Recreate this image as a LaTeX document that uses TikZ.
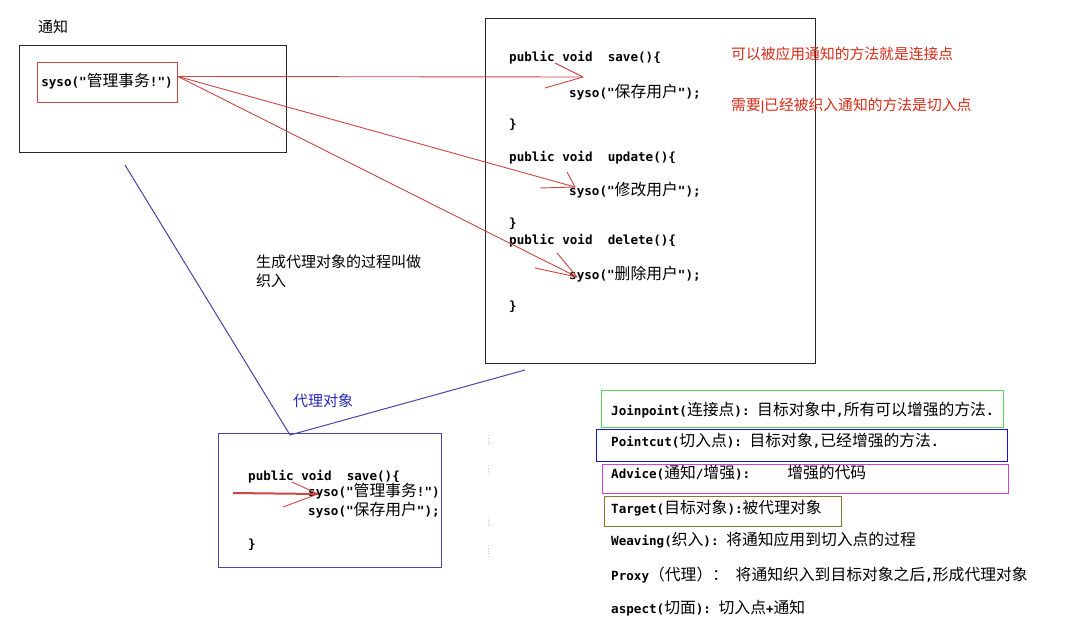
\documentclass[tikz,border=0pt]{standalone}
\usepackage{fontspec}
\setmonofont{DejaVu Sans Mono}
\newfontfamily\cjk{Noto Sans CJK SC}
\newcommand\zh[1]{{\cjk\mdseries\fontsize{15.8}{17}\selectfont #1}}
\definecolor{boxblack}{RGB}{40,40,40}
\definecolor{redline}{RGB}{205,70,70}
\definecolor{redtext}{RGB}{215,45,25}
\definecolor{blueline}{RGB}{70,70,165}
\definecolor{bluetext}{RGB}{40,40,190}
\definecolor{lgreen}{RGB}{90,210,90}
\definecolor{lblue}{RGB}{20,20,200}
\definecolor{lmagenta}{RGB}{220,60,220}
\definecolor{lolive}{RGB}{130,120,50}
\tikzset{
  code/.style={font=\ttfamily\bfseries\fontsize{12.6}{14}\selectfont, anchor=west, inner sep=0pt, text=black},
  zhtext/.style={font=\cjk\fontsize{15}{17}\selectfont, anchor=west, inner sep=0pt},
  framebox/.style={draw, anchor=north west, inner sep=0pt, fill=none},
  redconn/.style={draw=redline, line width=0.9pt},
  blueconn/.style={draw=blueline, line width=1pt},
}
\begin{document}
\begin{tikzpicture}[x=1pt,y=-1pt]
\useasboundingbox[fill=white] (0,0) rectangle (1078,632);

% --- notice (advice) box
\node[zhtext] (tzlabel) at (38,27) {通知};
\node[framebox, draw=boxblack, line width=1.3pt, minimum width=267pt, minimum height=107pt] (notice) at (19,45) {};
\node[framebox, draw=redline, line width=1pt, minimum width=140pt, minimum height=40pt] (redbox) at (37,62) {};
\node[code, anchor=center] (advtext) at (107,81) {syso("\zh{管理事务}!")};

% --- target box
\node[framebox, draw=boxblack, line width=1.3pt, minimum width=330pt, minimum height=345pt] (target) at (485,18) {};
\node[code] (c1) at (509,58) {public void\ \ save()\{};
\node[code] (c2) at (569,92) {syso("\zh{保存用户}");};
\node[code] (c3) at (509,125) {\}};
\node[code] (c4) at (509,158) {public void\ \ update()\{};
\node[code] (c5) at (569,190) {syso("\zh{修改用户}");};
\node[code] (c6) at (509,224) {\}};
\node[code] (c7) at (509,241) {public void\ \ delete()\{};
\node[code] (c8) at (569,274) {syso("\zh{删除用户}");};
\node[code] (c9) at (509,307) {\}};

% --- red annotations
\node[zhtext, text=redtext, font=\cjk\fontsize{14.8}{17}\selectfont] (r1) at (731,54) {可以被应用通知的方法就是连接点};
\node[zhtext, text=redtext, font=\cjk\fontsize{14.8}{17}\selectfont] (r2) at (731,106) {需要{\bfseries\fontsize{11}{12}\selectfont|}已经被织入通知的方法是切入点};

% --- red connectors with hand-drawn heads
\coordinate (src) at ([yshift=6pt]redbox.east);
\coordinate (t1) at (583,77);
\coordinate (t2) at (575,187);
\coordinate (t3) at (577,277);
\draw[redconn] (src) -- (t1);
\draw[redconn] (src) -- (t2);
\draw[redconn] (src) -- (t3);
\draw[redconn] (t1) -- ++(-28,-14);
\draw[redconn] (t1) -- ++(-38,11);
\draw[redconn] (t2) -- ++(-8,-15);
\draw[redconn] (t2) -- ++(-35,1);
\draw[redconn] (t3) -- ++(-20,-24);
\draw[redconn] (t3) -- ++(-42,-9);

% --- weaving text
\node[zhtext] (weave1) at (256,262) {生成代理对象的过程叫做};
\node[zhtext] (weave2) at (256,281) {织入};

% --- proxy box and blue connectors
\node[framebox, draw=blueline, line width=1.2pt, minimum width=223pt, minimum height=134pt] (proxy) at (218,433) {};
\coordinate (bl) at (125,165);
\coordinate (bv) at (290,435);
\coordinate (br) at (525,370);
\draw[blueconn] (bl) -- (bv) -- (br);
\node[zhtext, text=bluetext] (proxylabel) at (293,401) {代理对象};

\node[code] (p1) at (248,477) {public void\ \ save()\{};
\node[code] (p2) at (308,491) {syso("\zh{管理事务}!")};
\node[code] (p3) at (308,510) {syso("\zh{保存用户}");};
\node[code] (p4) at (248,545) {\}};

\coordinate (ps) at (233,493);
\coordinate (pt) at (318,494);
\draw[draw=redline, line width=2pt] (ps) -- (pt);
\draw[redconn] (pt) -- ++(-26,-12);
\draw[redconn] (pt) -- ++(-35,13);

% faint dotted marks
\foreach \ya/\yb in {435/445,465/476,517/527,545/557}
  \draw[gray!40, dotted, line width=0.8pt] (488,\ya) -- (488,\yb);

% --- glossary
\node[framebox, draw=lgreen, line width=1pt, minimum width=402pt, minimum height=37pt] (gJ) at (601,390) {};
\node[framebox, draw=lblue, line width=1pt, minimum width=411pt, minimum height=32pt] (gP) at (596,429) {};
\node[framebox, draw=lmagenta, line width=1pt, minimum width=406pt, minimum height=29pt] (gA) at (602,464) {};
\node[framebox, draw=lolive, line width=1pt, minimum width=237pt, minimum height=30pt] (gT) at (604,496) {};

\node[code] (l1) at (611,410) {Joinpoint(\zh{连接点}): \zh{目标对象中},\zh{所有可以增强的方法}.};
\node[code] (l2) at (611,441) {Pointcut(\zh{切入点}): \zh{目标对象},\zh{已经增强的方法}.};
\node[code] (l3) at (611,473) {Advice(\zh{通知}/\zh{增强}):\hspace{37pt}\zh{增强的代码}};
\node[code] (l4) at (611,508) {Target(\zh{目标对象}):\zh{被代理对象}};
\node[code] (l5) at (611,540) {Weaving(\zh{织入}): \zh{将通知应用到切入点的过程}};
\node[code] (l6) at (611,575) {Proxy\zh{（代理）：} \zh{将通知织入到目标对象之后},\zh{形成代理对象}};
\node[code] (l7) at (611,608) {aspect(\zh{切面}): \zh{切入点}+\zh{通知}};
\end{tikzpicture}
\end{document}
